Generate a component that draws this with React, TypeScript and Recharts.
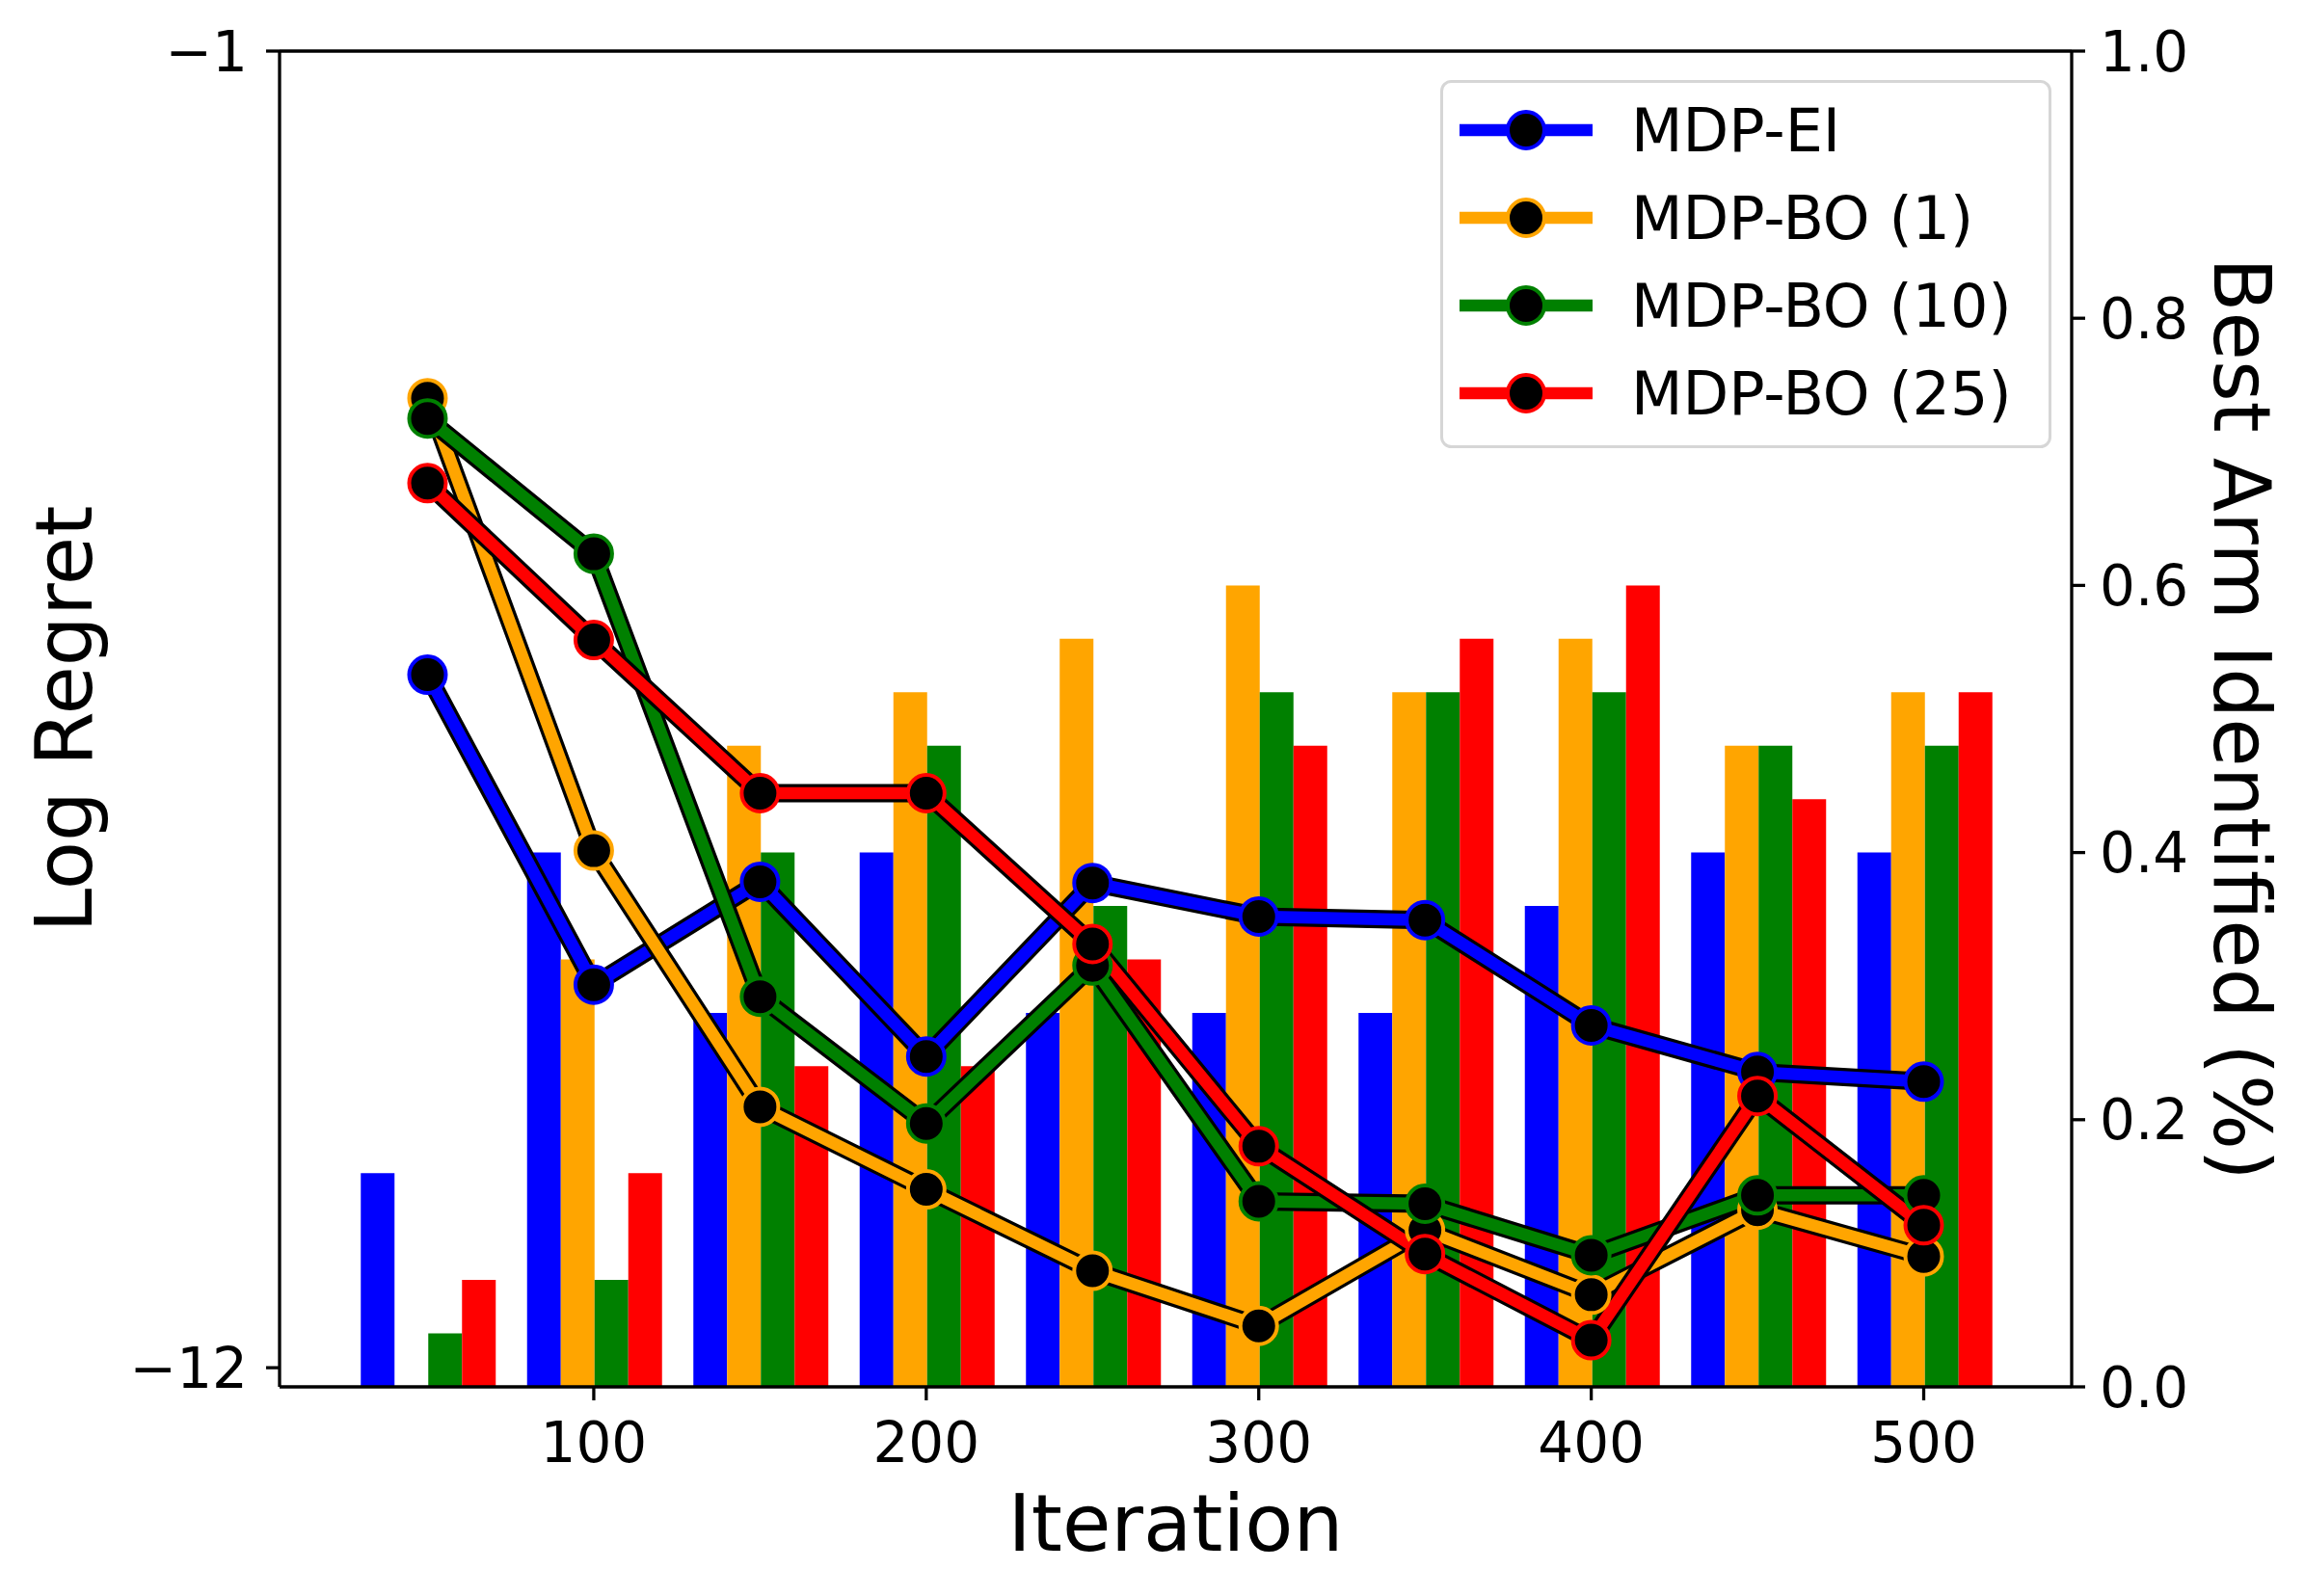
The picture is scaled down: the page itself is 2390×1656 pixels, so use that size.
import { ComposedChart, Bar, Line, XAxis, YAxis, Label, ReferenceLine } from 'recharts';

// iterations at which both the regret and the best-arm rate were measured
const iterations = [50, 100, 150, 200, 250, 300, 350, 400, 450, 500];

const seriesNames = ['MDP-EI', 'MDP-BO (1)', 'MDP-BO (10)', 'MDP-BO (25)'];
const seriesColors = ['#0000ff', '#ffa500', '#008000', '#ff0000'];

// log regret (left axis)
const regretEI = [-6.21, -8.8, -7.94, -9.4, -7.95, -8.23, -8.26, -9.14, -9.53, -9.61];
const regretBO1 = [-3.9, -7.68, -9.82, -10.51, -11.19, -11.65, -10.85, -11.39, -10.68, -11.07];
const regretBO10 = [-4.07, -5.2, -8.9, -9.96, -8.64, -10.61, -10.63, -11.06, -10.56, -10.56];
const regretBO25 = [-4.61, -5.92, -7.2, -7.2, -8.46, -10.15, -11.05, -11.77, -9.73, -10.81];

// fraction of runs that identified the best arm (right axis)
const bestArmEI = [0.16, 0.4, 0.28, 0.4, 0.28, 0.28, 0.28, 0.36, 0.4, 0.4];
const bestArmBO1 = [0, 0.32, 0.48, 0.52, 0.56, 0.6, 0.52, 0.56, 0.48, 0.52];
const bestArmBO10 = [0.04, 0.08, 0.4, 0.48, 0.36, 0.52, 0.52, 0.52, 0.48, 0.48];
const bestArmBO25 = [0.08, 0.16, 0.24, 0.24, 0.32, 0.48, 0.56, 0.6, 0.44, 0.52];

const iterTicks = [100, 200, 300, 400, 500];
const regretTicks = [-1, -12];
const bestArmTicks = [0, 0.2, 0.4, 0.6, 0.8, 1.0];

const regretSeries = [regretEI, regretBO1, regretBO10, regretBO25];
const bestArmSeries = [bestArmEI, bestArmBO1, bestArmBO10, bestArmBO25];

const data = iterations.map((iter, i) => {
  const row: Record<string, number> = { iter };
  regretSeries.forEach((s, k) => (row[`r${k}`] = s[i]));
  bestArmSeries.forEach((s, k) => (row[`b${k}`] = s[i]));
  return row;
});

const FONT = 'DejaVu Sans';
const AXIS_W = 3.3;

const makeDot = (color: string) => (props: any) => {
  const { cx, cy, index } = props;
  if (cx == null || cy == null) return <g key={`d-${index}`} />;
  return <circle key={`d-${index}`} cx={cx} cy={cy} r={19} fill="#000" stroke={color} strokeWidth={4} />;
};

function LegendBox() {
  return (
    <svg
      width={634}
      height={382}
      style={{ position: 'absolute', left: 1494, top: 83 }}
    >
      <rect x={1.5} y={1.5} width={631} height={379} rx={10} ry={10} fill="#fff" stroke="#d6d6d6" strokeWidth={3} />
      {seriesNames.map((name, i) => {
        const cy = 52 + i * 91;
        return (
          <g key={name}>
            <line x1={20} x2={158} y1={cy} y2={cy} stroke={seriesColors[i]} strokeWidth={12.5} />
            <circle cx={89} cy={cy} r={19} fill="#000" stroke={seriesColors[i]} strokeWidth={4} />
            <text x={198} y={cy + 22} fontSize={62} fontFamily={FONT} fill="#000">
              {name}
            </text>
          </g>
        );
      })}
    </svg>
  );
}

export default function App() {
  const tickStyle = { fontSize: 58, fill: '#000', fontFamily: FONT };
  const lineStyle = { stroke: '#000', strokeWidth: AXIS_W };

  return (
    <div style={{ position: 'absolute', left: 0, top: 0, width: 2390, height: 1656, background: '#fff', fontFamily: FONT }}>
      <ComposedChart
        width={2390}
        height={1656}
        data={data}
        margin={{ top: 53, left: 190, right: 141, bottom: 47 }}
        barGap={0}
        barCategoryGap="10%"
      >
        <XAxis xAxisId="cat" dataKey="iter" type="category" hide height={0} padding={{ left: 67, right: 67 }} />
        <XAxis
          xAxisId="num"
          dataKey="iter"
          type="number"
          domain={[5.5, 544.5]}
          ticks={iterTicks}
          allowDataOverflow
          height={170}
          tick={tickStyle}
          tickSize={14}
          tickMargin={23}
          tickLine={lineStyle}
          axisLine={lineStyle}
        >
          <Label
            content={({ viewBox }: any) => (
              <text
                x={viewBox.x + viewBox.width / 2}
                y={viewBox.y + viewBox.height}
                textAnchor="middle"
                fontSize={82}
                fontFamily={FONT}
                fill="#000"
              >
                Iteration
              </text>
            )}
          />
        </XAxis>
        <YAxis
          yAxisId="regret"
          orientation="left"
          domain={[-12.16, -1]}
          ticks={regretTicks}
          allowDataOverflow
          width={100}
          tick={tickStyle}
          tickFormatter={(v: number) => String(v).replace('-', '\u2212')}
          tickSize={14}
          tickMargin={19}
          tickLine={lineStyle}
          axisLine={lineStyle}
        >
          <Label
            content={({ viewBox }: any) => {
              const x = viewBox.x - 95;
              const y = viewBox.y + viewBox.height / 2;
              return (
                <text x={x} y={y} transform={`rotate(-90 ${x} ${y})`} textAnchor="middle" fontSize={82} fontFamily={FONT} fill="#000">
                  Log Regret
                </text>
              );
            }}
          />
        </YAxis>
        <YAxis
          yAxisId="pct"
          orientation="right"
          domain={[0, 1]}
          ticks={bestArmTicks}
          width={100}
          tick={tickStyle}
          tickFormatter={(v: number) => v.toFixed(1)}
          tickSize={14}
          tickMargin={15}
          tickLine={lineStyle}
          axisLine={lineStyle}
        >
          <Label
            content={({ viewBox }: any) => {
              const x = viewBox.x + 148;
              const y = viewBox.y + viewBox.height / 2;
              return (
                <text x={x} y={y} transform={`rotate(90 ${x} ${y})`} textAnchor="middle" fontSize={82} fontFamily={FONT} fill="#000">
                  Best Arm Identified (%)
                </text>
              );
            }}
          />
        </YAxis>

        {seriesNames.map((name, k) => (
          <Bar
            key={`bar-${name}`}
            xAxisId="cat"
            yAxisId="pct"
            dataKey={`b${k}`}
            name={name}
            fill={seriesColors[k]}
            isAnimationActive={false}
            legendType="none"
          />
        ))}

        {seriesNames.flatMap((name, k) => [
          <Line
            key={`outline-${name}`}
            xAxisId="num"
            yAxisId="regret"
            type="linear"
            dataKey={`r${k}`}
            stroke="#000"
            strokeWidth={19}
            dot={false}
            activeDot={false}
            legendType="none"
            isAnimationActive={false}
          />,
          <Line
            key={`line-${name}`}
            xAxisId="num"
            yAxisId="regret"
            type="linear"
            dataKey={`r${k}`}
            name={name}
            stroke={seriesColors[k]}
            strokeWidth={12.5}
            dot={makeDot(seriesColors[k])}
            activeDot={false}
            isAnimationActive={false}
          />,
        ])}

        <ReferenceLine xAxisId="num" yAxisId="regret" y={-1} stroke="#000" strokeWidth={AXIS_W} />
      </ComposedChart>
      <LegendBox />
    </div>
  );
}
